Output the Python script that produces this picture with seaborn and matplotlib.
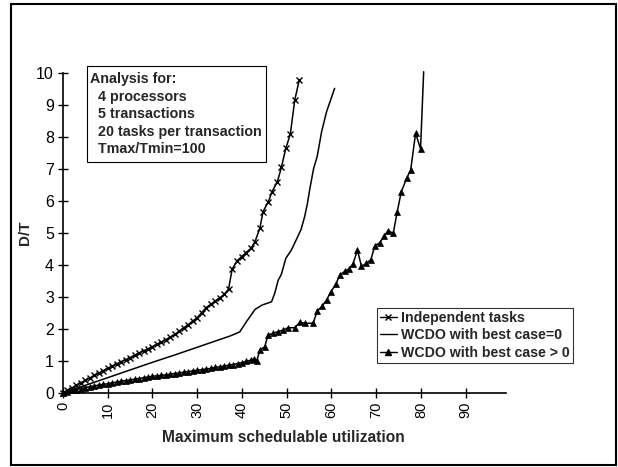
import matplotlib
matplotlib.use("Agg")
import matplotlib.pyplot as plt
from matplotlib.lines import Line2D
from matplotlib.patches import Rectangle
import pandas as pd
import seaborn as sns

# Independent tasks (x markers)
indep_x = [0, 1, 2, 3, 4, 5, 6, 7, 8, 9, 10, 11, 12, 13, 14, 15, 16, 17, 18, 19,
           20, 21, 22, 23, 24, 25, 26, 27, 28, 29, 30, 31, 32, 33, 34, 35, 36, 37,
           37.8, 38.9, 39.9, 40.9, 42, 42.9, 44, 44.7, 45.9, 46.7, 47.9, 48.8,
           49.8, 50.8, 51.8, 52.8]
indep_y = [0, 0.07, 0.15, 0.23, 0.31, 0.39, 0.46, 0.54, 0.61, 0.69, 0.76, 0.83,
           0.9, 0.97, 1.03, 1.1, 1.17, 1.24, 1.31, 1.37, 1.44, 1.51, 1.58, 1.66,
           1.74, 1.82, 1.92, 2.03, 2.13, 2.24, 2.35, 2.5, 2.66, 2.76, 2.86, 2.96,
           3.07, 3.24, 3.86, 4.12, 4.25, 4.38, 4.51, 4.72, 5.14, 5.66, 5.97, 6.28,
           6.59, 7.04, 7.64, 8.08, 9.15, 9.77]

# WCDO with best case = 0 (plain line)
wcdo0_x = [0, 5, 10, 15, 20, 25, 30, 35, 37.3, 39.5, 41, 42.9, 44.5, 46.6, 47.3,
           48.1, 48.8, 49.8, 51, 52.2, 53.2, 54, 54.6, 55.2, 56, 56.8, 57.8, 58.9,
           60.7]
wcdo0_y = [0, 0.23, 0.47, 0.71, 0.95, 1.18, 1.42, 1.66, 1.77, 1.9, 2.22, 2.6,
           2.74, 2.84, 3.1, 3.52, 3.7, 4.2, 4.45, 4.8, 5.1, 5.5, 5.9, 6.4, 7.0,
           7.38, 8.16, 8.78, 9.51]

# WCDO with best case > 0 (triangles)
wcdo1_x = [0, 1, 2, 3, 4, 5, 6, 7, 8, 9, 10, 11, 12, 13, 14, 15, 16, 17, 18, 19,
           20, 21, 22, 23, 24, 25, 26, 27, 28, 29, 30, 31, 32, 33, 34, 35, 36, 37,
           38, 39, 40, 41, 42, 42.7, 43.3, 44, 45.1, 45.8, 47, 48.1, 49.2, 50.3,
           51.8, 52.9, 54, 55.9, 56.8, 57.9, 58.9, 59.9, 61, 61.9, 63, 63.9, 64.8,
           65.8, 66.7, 67.8, 68.8, 69.7, 70.8, 71.7, 72.7, 73.8, 74.7, 75.6, 76.8,
           77.7, 78.8, 79.9, 80.6]
wcdo1_y = [0, 0.03, 0.07, 0.1, 0.13, 0.16, 0.19, 0.21, 0.24, 0.26, 0.28, 0.31,
           0.33, 0.36, 0.38, 0.4, 0.42, 0.44, 0.47, 0.49, 0.51, 0.53, 0.54, 0.56,
           0.58, 0.6, 0.62, 0.64, 0.66, 0.68, 0.7, 0.72, 0.74, 0.76, 0.79, 0.81,
           0.83, 0.86, 0.88, 0.91, 0.94, 0.98, 1.02, 1.06, 1.0, 1.33, 1.44, 1.8,
           1.86, 1.91, 1.96, 2.03, 2.03, 2.2, 2.17, 2.17, 2.55, 2.7, 2.9, 3.16, 3.4,
           3.69, 3.79, 3.87, 4.02, 4.46, 3.95, 4.04, 4.16, 4.6, 4.68, 4.9, 5.06,
           4.98, 5.66, 6.28, 6.7, 6.96, 8.11, 7.62, 10.03]

x_ticks = [0, 10, 20, 30, 40, 50, 60, 70, 80, 90]
y_ticks = [0, 1, 2, 3, 4, 5, 6, 7, 8, 9, 10]

note_lines = ["Analysis for:", "  4 processors", "  5 transactions",
              "  20 tasks per transaction", "  Tmax/Tmin=100"]
legend_labels = ["Independent tasks", "WCDO with best case=0",
                 "WCDO with best case > 0"]

sns.set_style("white")
plt.rcParams['font.family'] = ['Liberation Sans', 'DejaVu Sans']

W, H = 618, 467
fig = plt.figure(figsize=(W / 100, H / 100), dpi=100)
x0, x1, y0, y1 = 63, 506, 72.7, 392.7
ax = fig.add_axes([x0 / W, 1 - y1 / H, (x1 - x0) / W, (y1 - y0) / H])

indep = pd.DataFrame({"x": indep_x, "y": indep_y})
wcdo0 = pd.DataFrame({"x": wcdo0_x, "y": wcdo0_y})
wcdo1 = pd.DataFrame({"x": wcdo1_x, "y": wcdo1_y})

sns.lineplot(data=indep, x="x", y="y", ax=ax, color="black", lw=1.1,
             marker="x", markersize=4, markeredgewidth=1,
             markeredgecolor="black", clip_on=False)
sns.lineplot(data=wcdo0, x="x", y="y", ax=ax, color="black", lw=1.1, clip_on=False)
# last point of this series carries no marker in the original
sns.lineplot(data=wcdo1, x="x", y="y", ax=ax, color="black", lw=1.1,
             marker="^", markersize=3.8, markeredgewidth=0.5,
             markeredgecolor="black", clip_on=False,
             markevery=list(range(len(wcdo1_x) - 1)))

ax.set_xlim(0, 99)
ax.set_ylim(0, 10)
ax.set_xticks(x_ticks)
ax.set_yticks(y_ticks)
ax.set_xticklabels([str(t) for t in x_ticks], rotation=90)
ax.tick_params(direction="inout", length=7, width=1, color="black",
               labelcolor="black", pad=3, bottom=True, left=True)
ax.tick_params(axis="y", labelsize=11.5)
ax.tick_params(axis="x", labelsize=10.5)
for side in ("top", "right"):
    ax.spines[side].set_visible(False)
for side in ("left", "bottom"):
    ax.spines[side].set_color("black")
    ax.spines[side].set_linewidth(1.2)

ax.set_xlabel("Maximum schedulable utilization", fontsize=11.2, fontweight="bold")
ax.set_ylabel("D/T", fontsize=11, fontweight="bold")
ax.xaxis.set_label_coords(0.497, -0.117)
ax.yaxis.set_label_coords(-0.07, 0.5)

# analysis box
fig.patches.append(Rectangle((87 / W, 1 - 162 / H), (266 - 87) / W, (162 - 66) / H,
                             transform=fig.transFigure, fill=False,
                             edgecolor="black", lw=0.8))
for i, line in enumerate(note_lines):
    fig.text(90 / W, 1 - (83.5 + i * 17.4) / H, line, fontsize=10.3,
             fontweight="bold", va="baseline", ha="left")

handles = [
    Line2D([], [], color="black", lw=1, marker="x", markersize=4),
    Line2D([], [], color="black", lw=1),
    Line2D([], [], color="black", lw=1, marker="^", markersize=3.8),
]
leg = ax.legend(handles, legend_labels, loc="upper left",
                bbox_to_anchor=(377 / W, 1 - 308 / H), bbox_transform=fig.transFigure,
                prop={"weight": "bold", "size": 10.2}, frameon=True, fancybox=False,
                handlelength=1.2, handletextpad=0.3, borderpad=0.2,
                labelspacing=0.25, borderaxespad=0)
leg.get_frame().set_edgecolor("black")
leg.get_frame().set_linewidth(0.8)

# outer border
fig.patches.append(Rectangle((11 / W, 1 - 465 / H), (616 - 11) / W, (465 - 4) / H,
                             transform=fig.transFigure, fill=False,
                             edgecolor="black", lw=1.5))

fig.savefig("out.png", dpi=100)
